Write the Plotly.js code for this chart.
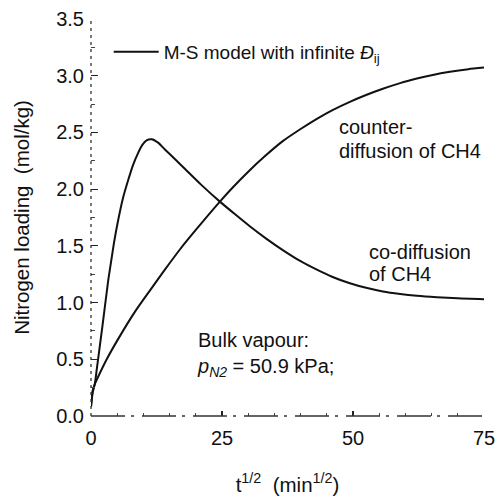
<!DOCTYPE html>
<html>
<head>
<meta charset="utf-8">
<script src="https://cdn.plot.ly/plotly-3.0.1.min.js"></script>
<style>
  html, body { margin: 0; padding: 0; background: #fff; }
  #chart { width: 499px; height: 500px; }
</style>
</head>
<body>
<div id="chart"></div>
<script>
// Nitrogen uptake vs square root of time, M-S model with infinite Đij
const coX = [0, 0.3, 0.76, 1.1, 2.2, 3.3, 3.6, 4.4, 5.2, 6.1, 7.1, 8.0, 9.0, 9.8, 10.6, 11.6, 12.8, 14.1, 16, 18, 21, 24.6, 27.5, 30.3, 33.5, 36.6, 40, 43.1, 46, 49.4, 52.5, 55.7, 59, 62.2, 66, 70, 75];
const coY = [0.08, 0.2, 0.29, 0.41, 0.8, 1.2, 1.29, 1.53, 1.73, 1.92, 2.08, 2.21, 2.32, 2.39, 2.43, 2.44, 2.41, 2.35, 2.265, 2.175, 2.04, 1.89, 1.778, 1.673, 1.562, 1.463, 1.365, 1.29, 1.228, 1.17, 1.13, 1.098, 1.076, 1.06, 1.047, 1.037, 1.03];

const counterX = [0, 0.3, 0.8, 1.1, 3.0, 5.2, 8.4, 11.3, 14.1, 17, 20, 24.6, 27, 30.3, 33, 36.6, 40, 43.1, 46, 49.4, 52.5, 55.7, 59, 62.2, 65, 68.5, 72, 75];
const counterY = [0.08, 0.22, 0.29, 0.32, 0.5, 0.68, 0.92, 1.11, 1.29, 1.47, 1.64, 1.89, 2.012, 2.167, 2.283, 2.423, 2.53, 2.62, 2.695, 2.77, 2.83, 2.885, 2.935, 2.975, 3.005, 3.035, 3.058, 3.072];

const xTicks = [0, 25, 50, 75];
const yTicks = [0.0, 0.5, 1.0, 1.5, 2.0, 2.5, 3.0, 3.5];
const yTickText = ['0.0', '0.5', '1.0', '1.5', '2.0', '2.5', '3.0', '3.5'];

const FONT = 'Liberation Sans, Arial, Helvetica, sans-serif';
const lineStyle = { color: '#111', width: 2, shape: 'spline', smoothing: 0.6 };

const traces = [
  {
    x: coX, y: coY, mode: 'lines', line: lineStyle,
    name: 'M-S model with infinite <i>Đ</i><sub>ij</sub>',
    legendgroup: 'ms', showlegend: true, hoverinfo: 'skip'
  },
  {
    x: counterX, y: counterY, mode: 'lines', line: lineStyle,
    name: 'counter', legendgroup: 'ms', showlegend: false, hoverinfo: 'skip'
  }
];

function note(text, x, y) {
  return {
    text: text, x: x, y: y, xref: 'x', yref: 'y',
    xanchor: 'left', yanchor: 'middle', align: 'left', showarrow: false,
    font: { family: FONT, size: 20, color: '#111' }
  };
}

const layout = {
  width: 499, height: 500,
  margin: { l: 91, r: 15, t: 19, b: 84 },
  paper_bgcolor: '#fff', plot_bgcolor: '#fff',
  font: { family: FONT, color: '#111' },
  showlegend: true,
  legend: {
    x: 0.045, y: 0.917, xanchor: 'left', yanchor: 'middle',
    itemwidth: 45,
    bgcolor: 'rgba(0,0,0,0)', borderwidth: 0,
    font: { family: FONT, size: 19, color: '#111' }
  },
  xaxis: {
    range: [0, 75], showgrid: false, zeroline: false, showline: false,
    tickmode: 'array', tickvals: xTicks, ticktext: xTicks.map(String),
    ticks: 'inside', ticklen: 5, tickwidth: 1.2, tickcolor: '#222',
    ticklabelstandoff: 8,
    minor: { dtick: 5, ticks: 'inside', ticklen: 3, tickwidth: 1, tickcolor: '#444' },
    tickfont: { family: FONT, size: 20, color: '#111' },
    title: { text: 't<sup>1/2</sup>  (min<sup>1/2</sup>)', font: { family: FONT, size: 20.5, color: '#111' }, standoff: 29 }
  },
  yaxis: {
    range: [0, 3.5], showgrid: false, zeroline: false, showline: false,
    tickmode: 'array', tickvals: yTicks, ticktext: yTickText,
    ticks: 'inside', ticklen: 7, tickwidth: 1.2, tickcolor: '#222',
    ticklabelstandoff: 6,
    minor: { dtick: 0.25, ticks: 'inside', ticklen: 4, tickwidth: 1, tickcolor: '#444' },
    tickfont: { family: FONT, size: 20, color: '#111' },
    title: { text: 'Nitrogen loading  (mol/kg)', font: { family: FONT, size: 20.5, color: '#111' }, standoff: 21 }
  },
  shapes: [
    { type: 'line', xref: 'paper', yref: 'paper', x0: 0, x1: 0, y0: 0, y1: 1,
      line: { color: '#333', width: 1.3, dash: '3px,4px' } },
    { type: 'line', xref: 'paper', yref: 'paper', x0: 0, x1: 1, y0: 0, y1: 0,
      line: { color: '#333', width: 1.3, dash: '34px,6px,3px,8px' } }
  ],
  annotations: [
    note('counter-', 46.9, 2.55),
    note('diffusion of CH4', 46.9, 2.34),
    note('co-diffusion', 52.7, 1.45),
    note('of CH4', 52.7, 1.25),
    note('Bulk vapour:<br><i>p</i><sub><i>N2</i></sub> = 50.9 kPa;', 19.8, 0.545)
  ]
};

Plotly.newPlot('chart', traces, layout, { staticPlot: true, displayModeBar: false });
</script>
</body>
</html>
